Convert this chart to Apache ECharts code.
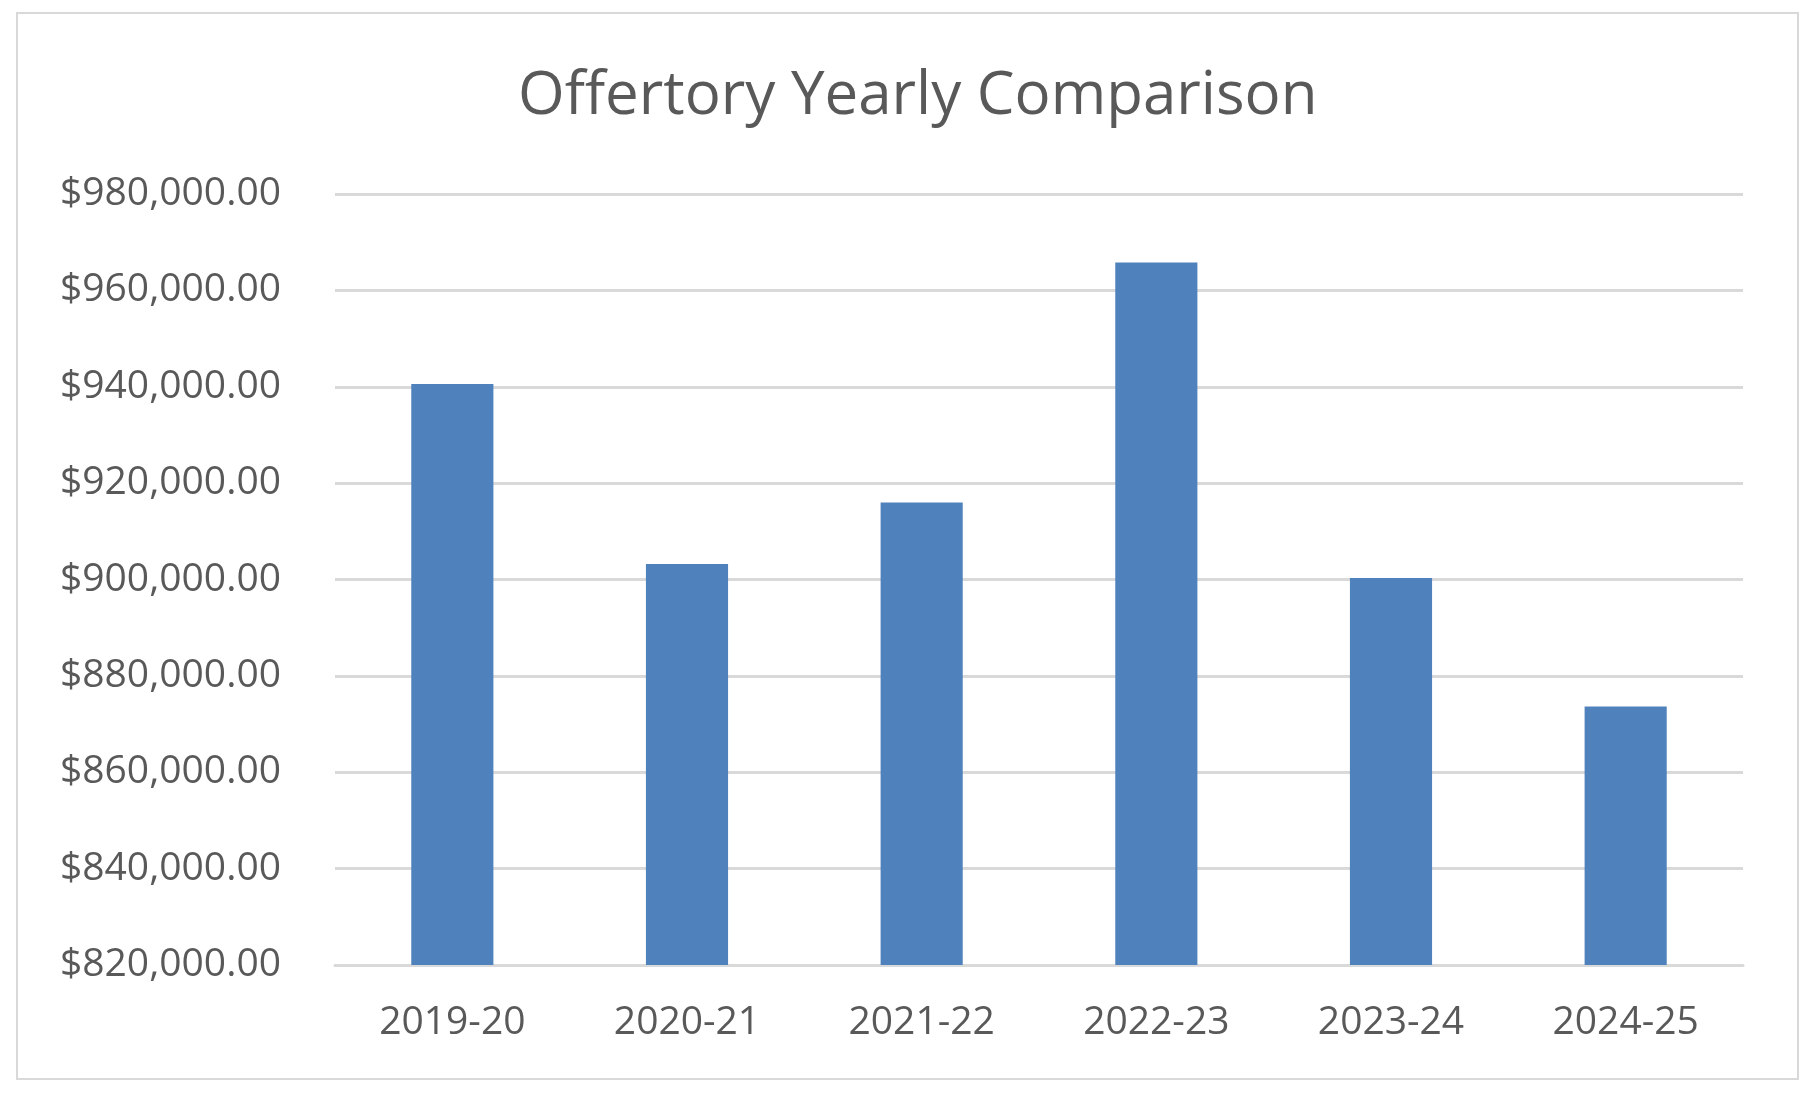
<!DOCTYPE html>
<html>
<head>
<meta charset="utf-8">
<script src="https://cdn.jsdelivr.net/npm/echarts@6/dist/echarts.min.js"></script>
<style>
  html,body{margin:0;padding:0;background:#fff;}
  #main{width:1816px;height:1096px;}
</style>
</head>
<body>
<div id="main"></div>
<script>
// data
var years=['2019-20','2020-21','2021-22','2022-23','2023-24','2024-25'];
var offertory=[940550,903200,916000,965800,900300,873650];
var yMin=820000, yMax=980000, yStep=20000;

var chart=echarts.init(document.getElementById('main'));
var textColor='#595959';

function money(v){
  return '$'+v.toLocaleString('en-US',{minimumFractionDigits:2,maximumFractionDigits:2});
}

var option={
  backgroundColor:'#fff',
  animation:false,
  title:{
    text:'Offertory Yearly Comparison',
    left:513,
    top:62,
    textStyle:{fontFamily:'Open Sans',fontSize:60,fontWeight:'normal',color:textColor}
  },
  graphic:[{
    type:'rect',
    shape:{x:17,y:13,width:1781,height:1066},
    style:{fill:'none',stroke:'#d9d9d9',lineWidth:2},
    silent:true
  }],
  grid:{left:335,right:73,top:194,bottom:131},
  xAxis:{
    type:'category',
    data:years,
    axisTick:{show:false},
    axisLine:{lineStyle:{color:'#d9d9d9',width:3}},
    axisLabel:{color:textColor,fontFamily:'Open Sans',fontSize:39,margin:38}
  },
  yAxis:{
    type:'value',
    min:yMin,
    max:yMax,
    interval:yStep,
    axisLine:{show:false},
    axisTick:{show:false},
    splitLine:{lineStyle:{color:'#d9d9d9',width:3}},
    axisLabel:{color:textColor,fontFamily:'Open Sans',fontSize:39,margin:54,formatter:money}
  },
  series:[{
    name:'Offertory',
    type:'bar',
    data:offertory,
    barWidth:'35%',
    itemStyle:{color:'#4f81bd'}
  }]
};
chart.setOption(option);
</script>
</body>
</html>
